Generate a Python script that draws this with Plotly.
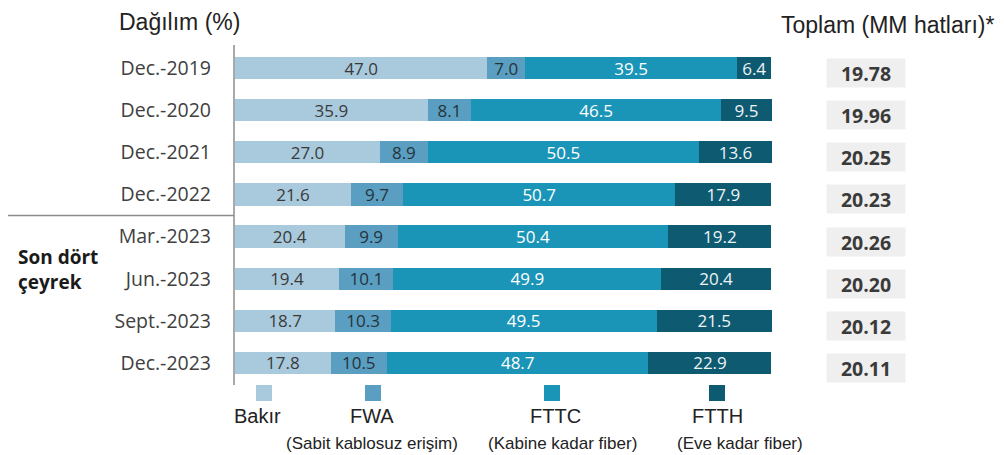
import plotly.graph_objects as go

W, H = 1004, 455
OFF = 8  # page body margin of the written HTML

periods = ["Dec.-2019", "Dec.-2020", "Dec.-2021", "Dec.-2022",
           "Mar.-2023", "Jun.-2023", "Sept.-2023", "Dec.-2023"]
bakir = [47.0, 35.9, 27.0, 21.6, 20.4, 19.4, 18.7, 17.8]
fwa = [7.0, 8.1, 8.9, 9.7, 9.9, 10.1, 10.3, 10.5]
fttc = [39.5, 46.5, 50.5, 50.7, 50.4, 49.9, 49.5, 48.7]
ftth = [6.4, 9.5, 13.6, 17.9, 19.2, 20.4, 21.5, 22.9]
totals = ["19.78", "19.96", "20.25", "20.23", "20.26", "20.20", "20.12", "20.11"]

series_names = ["Bakır", "FWA", "FTTC", "FTTH"]
series_sub = ["", "(Sabit kablosuz erişim)", "(Kabine kadar fiber)", "(Eve kadar fiber)"]
series_vals = [bakir, fwa, fttc, ftth]
colors = ["#a9c9dc", "#5a9fc1", "#1b95b7", "#0d5a71"]
text_colors = ["#3a3a3a", "#26323a", "#ffffff", "#eef4f7"]


def px_x(p):
    return (p - OFF) / W


def px_y(p):
    return 1 - (p - OFF) / H


fig = go.Figure()
for name, vals, c, tc in zip(series_names, series_vals, colors, text_colors):
    fig.add_trace(go.Bar(
        orientation="h", y=periods, x=vals, name=name,
        marker=dict(color=c, line=dict(width=0)),
        text=[f"{v:.1f}" for v in vals], textposition="inside",
        insidetextanchor="middle", textangle=0,
        textfont=dict(family="Open Sans", size=17, color=tc),
        width=0.53, showlegend=False, hoverinfo="skip",
    ))

y_top, y_bot = 47, 384
fig.update_layout(
    width=W, height=H, barmode="stack",
    margin=dict(l=0, r=0, t=0, b=0),
    paper_bgcolor="white", plot_bgcolor="white",
    uniformtext=dict(minsize=17, mode="show"),
    xaxis=dict(domain=[px_x(235), px_x(772)], range=[0, 100], visible=False),
    yaxis=dict(domain=[px_y(y_bot), px_y(y_top)], type="category",
               categoryorder="array", categoryarray=periods,
               range=[len(periods) - 0.5, -0.5], showgrid=False,
               zeroline=False, showline=False, ticks="",
               ticklabelstandoff=23,
               tickfont=dict(family="Open Sans", size=19.5, color="#404040")),
)

# vertical axis line
fig.add_shape(type="line", xref="paper", yref="paper",
              x0=px_x(234), x1=px_x(234), y0=px_y(385), y1=px_y(45),
              line=dict(color="#8c8c8c", width=1.5))
# separator line between yearly and quarterly rows
fig.add_shape(type="line", xref="paper", yref="y",
              x0=px_x(8), x1=px_x(234), y0=3.5, y1=3.5,
              line=dict(color="#8c8c8c", width=1.5))

# titles
fig.add_annotation(text="Dağılım (%)", xref="paper", yref="paper",
                   x=px_x(117), y=px_y(22), xanchor="left", yanchor="middle",
                   showarrow=False,
                   font=dict(family="Liberation Sans", size=23, color="#222222"))
fig.add_annotation(text="Toplam (MM hatları)*", xref="paper", yref="paper",
                   x=px_x(996), y=px_y(25), xanchor="right", yanchor="middle",
                   showarrow=False,
                   font=dict(family="Liberation Sans", size=23, color="#222222"))
fig.add_annotation(text="<b>Son dört<br>çeyrek</b>", xref="paper", yref="paper",
                   x=px_x(16), y=px_y(269), xanchor="left", yanchor="middle",
                   align="left", showarrow=False,
                   font=dict(family="Open Sans", size=19, color="#1a1a1a"))

# totals column
for i, t in enumerate(totals):
    fig.add_annotation(text=f"<b>{t}</b>", xref="paper", yref="y",
                       x=px_x(866), y=periods[i], yshift=-5,
                       xanchor="center", yanchor="middle", showarrow=False,
                       width=76, height=26, bgcolor="#efefef",
                       font=dict(family="Open Sans", size=19.5, color="#3a3a3a"))

# legend
leg_x = [264, 373, 552, 717]
lab_x = [257, 372, 555, 717]
sub_x = [0, 372, 562, 740]
for i, name in enumerate(series_names):
    cx = leg_x[i]
    fig.add_shape(type="rect", xref="paper", yref="paper",
                  x0=px_x(cx - 8), x1=px_x(cx + 8), y0=px_y(401), y1=px_y(385),
                  fillcolor=colors[i], line=dict(width=0))
    fig.add_annotation(text=name, xref="paper", yref="paper",
                       x=px_x(lab_x[i]), y=px_y(416), xanchor="center",
                       yanchor="middle", showarrow=False,
                       font=dict(family="Liberation Sans", size=20, color="#222222"))
    if series_sub[i]:
        fig.add_annotation(text=series_sub[i], xref="paper", yref="paper",
                           x=px_x(sub_x[i]), y=px_y(443), xanchor="center",
                           yanchor="middle", showarrow=False,
                           font=dict(family="Liberation Sans", size=17, color="#222222"))

fig.write_html("out.html")
